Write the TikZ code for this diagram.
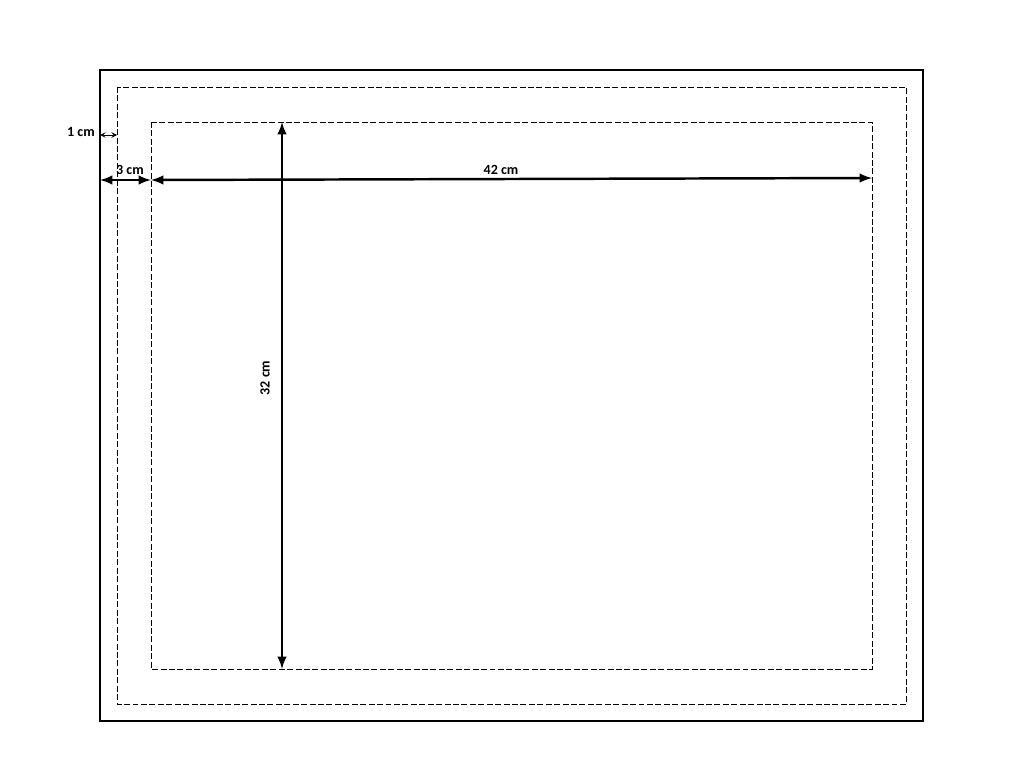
\documentclass[tikz,border=0pt]{standalone}
\usepackage{fontspec}
\setmainfont{Carlito}
\usetikzlibrary{arrows,calc,positioning}

\begin{document}
\begin{tikzpicture}[x=0.02cm,y=-0.02cm,every text node part/.style={align=center},text=black,
	lbl/.style={font=\fontsize{8}{9}\selectfont\bfseries,inner sep=1pt},
	dim/.style={latex-latex,line width=1.4pt},
	dimthin/.style={stealth-stealth,line width=0.4pt},
	cut/.style={dash pattern=on 3.4pt off 1.4pt,line width=0.5pt}]

	\useasboundingbox (0,0) rectangle (1024,777);

	% frames
	\draw[line width=0.8pt] (100,70) coordinate (o1) rectangle (923,721) coordinate (o2);
	\draw[cut] (117,87) coordinate (m1) rectangle (906,704) coordinate (m2);
	\draw[cut] (151,122) coordinate (i1) rectangle (872,669) coordinate (i2);

	% measures
	\coordinate (a1) at (o1 |- 0,135);
	\coordinate (a2) at (m1 |- 0,135);
	\coordinate (b1) at (o1 |- 0,180);
	\coordinate (b2) at (i1 |- 0,180);
	\coordinate (c2) at (i2 |- 0,178);
	\coordinate (v1) at (282,122);
	\coordinate (v2) at (282,669);

	\draw[dimthin] (a1) -- (a2);
	\draw[dim] (b1) -- (b2);
	\draw[dim] (b2) -- (c2);
	\draw[dim] (v1) -- (v2);

	\node[lbl] (t1) at (81,132) {1 cm};
	\node[lbl] (t3) at (130,170) {3 cm};
	\node[lbl] (t42) at (501,170) {42 cm};
	\node[lbl,rotate=90] (t32) at (265,378) {32 cm};
\end{tikzpicture}
\end{document}
